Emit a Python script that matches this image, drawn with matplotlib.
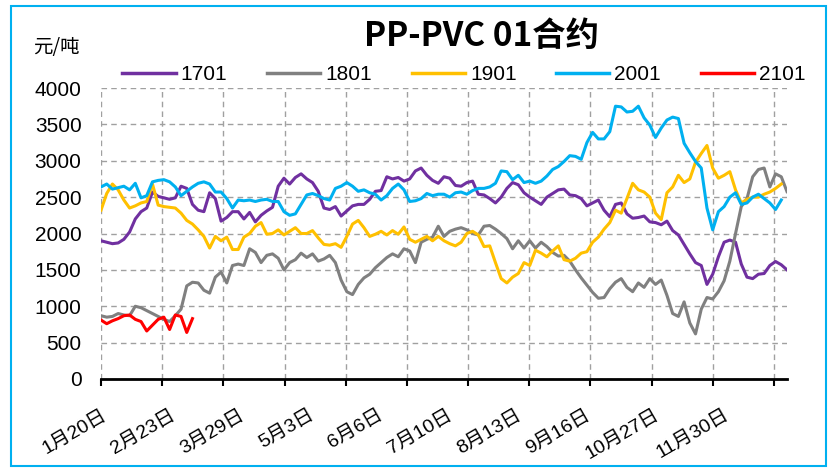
import numpy as np
import matplotlib
matplotlib.use("Agg")
import matplotlib.pyplot as plt
from matplotlib.patches import Rectangle
from matplotlib.lines import Line2D

plt.rcParams['font.family'] = ['Liberation Sans', 'Noto Sans CJK SC', 'DejaVu Sans']

# PP-PVC spread of the January contracts, yuan/ton, one reading every 2 trading days
contracts = ['1701', '1801', '1901', '2001', '2101']
colors = ['#7030A0', '#808080', '#FFC000', '#00B0F0', '#FF0000']
date_labels = ['1月20日', '2月23日', '3月29日', '5月3日', '6月6日',
               '7月10日', '8月13日', '9月16日', '10月27日', '11月30日']
day_step = 2

s1701 = [1900, 1880, 1860, 1870, 1920, 2020, 2200, 2300, 2350, 2570,
         2510, 2490, 2470, 2490, 2650, 2620, 2400, 2320, 2300, 2560,
         2480, 2170, 2220, 2300, 2300, 2200, 2290, 2160, 2250, 2310,
         2360, 2650, 2760, 2680, 2770, 2820, 2750, 2700, 2580, 2350,
         2330, 2370, 2240, 2310, 2380, 2400, 2400, 2470, 2580, 2590,
         2780, 2750, 2770, 2720, 2750, 2860, 2900, 2800, 2730, 2690,
         2780, 2760, 2660, 2650, 2700, 2720, 2540, 2530, 2480, 2420,
         2500, 2620, 2700, 2670, 2560, 2500, 2450, 2400, 2500, 2550,
         2600, 2610, 2530, 2520, 2480, 2380, 2420, 2460, 2320, 2230,
         2400, 2420, 2270, 2210, 2220, 2240, 2160, 2150, 2120, 2170,
         2040, 1980, 1850, 1720, 1600, 1560, 1300, 1440, 1680, 1880,
         1910, 1880, 1580, 1400, 1380, 1440, 1450, 1560, 1615, 1570,
         1500]

s1801 = [870, 850, 860, 900, 880, 870, 1000, 980, 940, 900,
         860, 820, 790, 870, 960, 1280, 1330, 1320, 1220, 1180,
         1400, 1470, 1320, 1560, 1580, 1560, 1790, 1740, 1600, 1700,
         1720, 1660, 1500, 1600, 1640, 1730, 1670, 1720, 1620, 1650,
         1700, 1600, 1360, 1200, 1160, 1300, 1390, 1440, 1530, 1600,
         1670, 1720, 1680, 1790, 1760, 1600, 1880, 1920, 1950, 2100,
         1960, 2030, 2060, 2080, 2050, 2000, 1980, 2100, 2110, 2060,
         2000, 1930, 1790, 1900, 1800, 1900, 1800, 1880, 1820, 1740,
         1690, 1700, 1620, 1500, 1390, 1290, 1190, 1110, 1120, 1240,
         1330, 1380, 1260, 1200, 1320, 1260, 1380, 1300, 1360, 1150,
         900, 860, 1060, 770, 620, 960, 1120, 1100, 1200, 1350,
         1620, 2000, 2370, 2480, 2780, 2880, 2900, 2640, 2820, 2780,
         2575]

s1901 = [2320, 2550, 2680, 2600, 2460, 2350, 2380, 2420, 2440, 2680,
         2390, 2370, 2360, 2350, 2280, 2180, 2130, 2050, 1960, 1800,
         1960, 1900, 1950, 1780, 1780, 1950, 2000, 2100, 2150, 1990,
         2000, 2050, 1980, 2030, 2080, 2000, 2000, 2040, 1940, 1850,
         1840, 1860, 1810, 1960, 2130, 2180, 2080, 1960, 1990, 2030,
         1980, 2040, 1990, 2090, 1920, 1880, 1920, 1960, 1900, 1960,
         1900, 1860, 1830, 1880, 2000, 2030, 1980, 1820, 1830, 1600,
         1380, 1320, 1400, 1450, 1600, 1560, 1770, 1730, 1680, 1760,
         1830, 1640, 1620, 1660, 1730, 1750, 1880, 1950, 2060, 2150,
         2320, 2280, 2480, 2690, 2600, 2570, 2500, 2280, 2190, 2560,
         2640, 2800, 2700, 2750, 2980, 3100, 3210, 2900, 2760, 2800,
         2850, 2600, 2420, 2470, 2500, 2500, 2540, 2570, 2620, 2680]

s2001 = [2640, 2680, 2610, 2630, 2650, 2600, 2690, 2490, 2520, 2710,
         2730, 2740, 2710, 2640, 2520, 2580, 2640, 2690, 2710, 2680,
         2570, 2570, 2480, 2350, 2460, 2450, 2460, 2440, 2460, 2470,
         2440, 2440, 2300, 2250, 2270, 2400, 2530, 2550, 2520, 2480,
         2460, 2620, 2650, 2700, 2650, 2580, 2600, 2560, 2540, 2460,
         2520, 2620, 2680, 2600, 2440, 2450, 2480, 2550, 2520, 2540,
         2540, 2500, 2560, 2570, 2540, 2590, 2620, 2620, 2640, 2690,
         2860, 2850, 2740, 2800, 2700, 2720, 2690, 2720, 2790, 2880,
         2920, 2990, 3070, 3060, 3020, 3250, 3390, 3300, 3300, 3400,
         3750, 3740, 3670, 3680, 3750, 3590, 3490, 3320, 3450, 3560,
         3600, 3580, 3240, 3110, 2990, 2900, 2350, 2050, 2300, 2370,
         2500, 2560, 2400, 2420, 2500, 2540, 2480, 2420, 2330, 2460]

s2101 = [810, 760, 800, 830, 870, 880, 820, 790, 660, 740,
         820, 850, 680, 880, 860, 640, 830]

series = [s1701, s1801, s1901, s2001, s2101]

fig = plt.figure(figsize=(8.33, 4.71), dpi=100)
ax = fig.add_axes([101 / 833, 92 / 471, 686 / 833, 291 / 471])

for vals, name, col in zip(series, contracts, colors):
    x = np.arange(len(vals)) * day_step
    ax.plot(x, vals, color=col, linewidth=2.2, label=name, solid_joinstyle='round')

ax.set_xlim(0, 240)
ax.set_ylim(0, 4000)

# major ticks carry the tick marks and vertical grid, minor ticks carry the dates
major_step = 21.4
label_step = 24.2
ax.xaxis.remove_overlapping_locs = False
ax.set_xticks(np.arange(12) * major_step)
ax.set_xticklabels([])
ax.set_xticks(np.arange(len(date_labels)) * label_step, minor=True)
ax.set_xticklabels(date_labels, minor=True, rotation=30, ha='right',
                   rotation_mode='anchor', fontsize=14)
ax.tick_params(axis='x', which='major', length=5, width=1.5, direction='out', color='black')
ax.tick_params(axis='x', which='minor', length=0, pad=20)

ax.set_yticks(np.arange(0, 4001, 500))
ax.tick_params(axis='y', length=0, pad=14, labelsize=15)

grid_kw = dict(color='#A0A0A0', linestyle=(0, (4, 3)), linewidth=1.0)
ax.grid(axis='y', **grid_kw)
ax.grid(axis='x', which='major', **grid_kw)
ax.set_axisbelow(True)

for side in ('left', 'right', 'top'):
    ax.spines[side].set_visible(False)
ax.spines['bottom'].set_linewidth(2)
ax.spines['bottom'].set_color('black')

fig.text(482 / 833, 1 - 36 / 471, 'PP-PVC 01合约', ha='center', va='center',
         fontsize=24, fontweight='bold', family=['Noto Sans CJK SC'])
fig.text(33 / 833, 1 - 47 / 471, '元/吨', ha='left', va='center',
         fontsize=14, family=['Noto Sans CJK SC'])

handles = [Line2D([], [], color=c, linewidth=2.5) for c in colors]
fig.legend(handles, contracts, loc='center', bbox_to_anchor=(464 / 833, 1 - 75 / 471),
           ncol=5, frameon=False, fontsize=15, handlelength=2.55,
           handletextpad=0.25, columnspacing=1.9)

fig.add_artist(Rectangle((11 / 833, 5 / 471), 815 / 833, 460 / 471,
                         transform=fig.transFigure, fill=False,
                         edgecolor='#00B0F0', linewidth=1.5))

fig.savefig('out.png', dpi=100)
